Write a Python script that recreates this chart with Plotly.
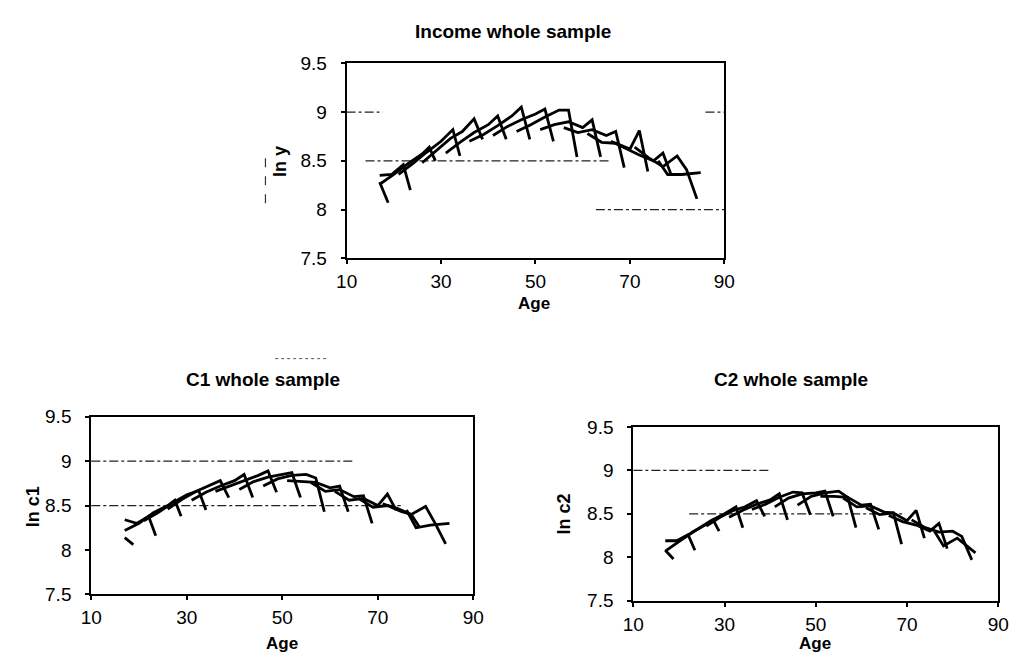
import plotly.graph_objects as go

# ---- data ----
cohort_ages = [
    [17, 18.8],
    [17, 19.5, 22, 23.5],
    [17, 20, 23, 26, 27.5, 28.8],
    [21, 24, 27, 30, 32.5, 34],
    [26, 29, 32, 34.5, 37, 38.8],
    [31, 34, 37, 40, 42, 43.8],
    [36, 39, 42, 45, 47, 48.8],
    [41, 44, 47, 50, 52, 53.8],
    [46, 49, 52, 55, 57, 58.8],
    [51, 54, 57, 60, 62, 63.8],
    [56, 59, 62, 65, 67, 68.8],
    [61, 64, 67, 70, 72, 73.8],
    [66, 69, 72, 75, 77, 78.8],
    [71, 74, 77, 80, 82, 84.2],
    [76, 78, 81, 85],
]

income_values = [
    [8.28, 8.07],
    [8.35, 8.36, 8.46, 8.20],
    [8.26, 8.36, 8.47, 8.57, 8.64, 8.50],
    [8.36, 8.47, 8.59, 8.70, 8.82, 8.55],
    [8.48, 8.61, 8.73, 8.80, 8.93, 8.72],
    [8.58, 8.69, 8.79, 8.87, 8.96, 8.72],
    [8.70, 8.77, 8.86, 8.96, 9.05, 8.72],
    [8.76, 8.85, 8.92, 8.98, 9.03, 8.70],
    [8.80, 8.87, 8.95, 9.02, 9.02, 8.54],
    [8.82, 8.87, 8.90, 8.84, 8.92, 8.54],
    [8.84, 8.79, 8.82, 8.76, 8.80, 8.43],
    [8.78, 8.69, 8.68, 8.62, 8.81, 8.39],
    [8.70, 8.63, 8.56, 8.50, 8.58, 8.35],
    [8.64, 8.53, 8.44, 8.55, 8.41, 8.11],
    [8.50, 8.36, 8.36, 8.38],
]

c1_values = [
    [8.14, 8.06],
    [8.34, 8.30, 8.38, 8.16],
    [8.22, 8.30, 8.42, 8.50, 8.56, 8.38],
    [8.33, 8.42, 8.53, 8.62, 8.67, 8.45],
    [8.46, 8.57, 8.66, 8.72, 8.78, 8.59],
    [8.56, 8.65, 8.72, 8.78, 8.85, 8.59],
    [8.66, 8.72, 8.78, 8.84, 8.89, 8.65],
    [8.68, 8.77, 8.82, 8.85, 8.87, 8.59],
    [8.72, 8.80, 8.84, 8.85, 8.81, 8.43],
    [8.78, 8.77, 8.76, 8.70, 8.72, 8.43],
    [8.76, 8.66, 8.68, 8.60, 8.61, 8.30],
    [8.66, 8.56, 8.58, 8.50, 8.63, 8.45],
    [8.58, 8.48, 8.50, 8.43, 8.40, 8.25],
    [8.52, 8.47, 8.40, 8.49, 8.30, 8.07],
    [8.45, 8.25, 8.28, 8.30],
]

c2_values = [
    [8.08, 7.98],
    [8.19, 8.19, 8.26, 8.08],
    [8.07, 8.18, 8.29, 8.38, 8.43, 8.30],
    [8.22, 8.32, 8.42, 8.50, 8.58, 8.34],
    [8.36, 8.46, 8.54, 8.58, 8.65, 8.47],
    [8.46, 8.54, 8.61, 8.66, 8.73, 8.43],
    [8.55, 8.61, 8.69, 8.75, 8.74, 8.49],
    [8.58, 8.68, 8.73, 8.74, 8.76, 8.47],
    [8.60, 8.70, 8.74, 8.76, 8.69, 8.34],
    [8.70, 8.70, 8.69, 8.60, 8.61, 8.32],
    [8.68, 8.58, 8.59, 8.52, 8.51, 8.15],
    [8.57, 8.49, 8.51, 8.42, 8.54, 8.22],
    [8.48, 8.41, 8.37, 8.30, 8.39, 8.10],
    [8.43, 8.34, 8.29, 8.30, 8.24, 7.97],
    [8.30, 8.13, 8.22, 8.05],
]

x_ticks = [10, 30, 50, 70, 90]
y_ticks = [7.5, 8, 8.5, 9, 9.5]
y_tick_labels = ["7.5", "8", "8.5", "9", "9.5"]
panel_titles = ["Income whole sample", "C1 whole sample", "C2 whole sample"]
y_titles = ["ln y", "ln c1", "ln c2"]
x_title = "Age"

# ---- layout geometry ----
FONT = "Liberation Sans, Arial, sans-serif"
panels = [
    dict(vals=income_values, xa="x", ya="y", xd=[0.3353, 0.7126], yd=[0.6137, 0.9172],
         title_xy=(0.5015, 0.9669), ytitle_xy=(0.2688, 0.7636), xtitle_xy=(0.522, 0.5437),
         grids=[(9, 0.0, 0.096), (9, 0.95, 1.0), (8.5, 0.05, 0.70), (8, 0.66, 1.0)]),
    dict(vals=c1_values, xa="x2", ya="y2", xd=[0.0802, 0.4619], yd=[0.0911, 0.3675],
         title_xy=(0.252, 0.4247), ytitle_xy=(0.0215, 0.2274), xtitle_xy=(0.2708, 0.0),
         grids=[(9, 0.0, 0.685), (8.5, 0.0, 0.81)]),
    dict(vals=c2_values, xa="x3", ya="y3", xd=[0.6217, 0.9863], yd=[0.0813, 0.3517],
         title_xy=(0.779, 0.4247), ytitle_xy=(0.5523, 0.2169), xtitle_xy=(0.8035, 0.0),
         grids=[(9, 0.0, 0.37), (8.5, 0.153, 0.74)]),
]

fig = go.Figure()
layout = dict(
    width=1023, height=664, margin=dict(l=0, r=0, t=0, b=0),
    paper_bgcolor="white", plot_bgcolor="white", showlegend=False,
    font=dict(family=FONT, color="black", size=18),
)
shapes = []
annotations = []

for i, p in enumerate(panels):
    for ages, v in zip(cohort_ages, p["vals"]):
        fig.add_trace(go.Scatter(x=ages, y=v, mode="lines",
                                 line=dict(color="black", width=2.8),
                                 xaxis=p["xa"], yaxis=p["ya"],
                                 hoverinfo="skip", showlegend=False))
    xkey = "xaxis" if i == 0 else f"xaxis{i+1}"
    ykey = "yaxis" if i == 0 else f"yaxis{i+1}"
    layout[xkey] = dict(domain=p["xd"], anchor=p["ya"], range=[10, 90],
                        tickvals=x_ticks, ticks="outside", ticklen=4, tickwidth=1.5,
                        tickcolor="black", showline=True, linecolor="black", linewidth=2,
                        mirror=True, showgrid=False, zeroline=False, fixedrange=True,
                        tickfont=dict(size=19, family=FONT), ticklabelstandoff=1)
    layout[ykey] = dict(domain=p["yd"], anchor=p["xa"], range=[7.5, 9.5],
                        tickvals=y_ticks, ticktext=y_tick_labels, ticks="outside",
                        ticklen=4, tickwidth=1.5, tickcolor="black",
                        showline=True, linecolor="black", linewidth=2, mirror=True,
                        showgrid=False, zeroline=False, fixedrange=True,
                        tickfont=dict(size=19, family=FONT), ticklabelstandoff=10)
    xref_dom = p["xa"] + " domain"
    for gy, f0, f1 in p["grids"]:
        shapes.append(dict(type="line", xref=xref_dom, yref=p["ya"], x0=f0, x1=f1,
                           y0=gy, y1=gy, line=dict(color="#222", width=1.2, dash="dashdot"),
                           layer="below"))
    annotations.append(dict(text=f"<b>{panel_titles[i]}</b>", xref="paper", yref="paper",
                            x=p["title_xy"][0], y=p["title_xy"][1], showarrow=False,
                            xanchor="center", yanchor="middle", font=dict(size=19, family=FONT)))
    annotations.append(dict(text=f"<b>{y_titles[i]}</b>", xref="paper", yref="paper",
                            x=p["ytitle_xy"][0], y=p["ytitle_xy"][1], showarrow=False,
                            textangle=-90, xanchor="center", yanchor="middle",
                            font=dict(size=18, family=FONT)))
    annotations.append(dict(text=f"<b>{x_title}</b>", xref="paper", yref="paper",
                            x=p["xtitle_xy"][0], y=p["xtitle_xy"][1], showarrow=False,
                            xanchor="center", yanchor="bottom" if i > 0 else "middle",
                            yshift=-1 if i > 0 else 0, borderpad=0,
                            font=dict(size=17, family=FONT)))

# small scan marks
shapes.append(dict(type="line", xref="paper", yref="paper", x0=0.2542, x1=0.2542,
                   y0=1 - 153 / 664, y1=1 - 203 / 664,
                   line=dict(color="#333", width=1.2, dash="dash")))
shapes.append(dict(type="line", xref="paper", yref="paper", x0=270 / 1023, x1=322 / 1023,
                   y0=1 - 360 / 664, y1=1 - 360 / 664,
                   line=dict(color="#555", width=1, dash="dot")))

layout["shapes"] = shapes
layout["annotations"] = annotations
fig.update_layout(**layout)
fig.write_html("out.html")
